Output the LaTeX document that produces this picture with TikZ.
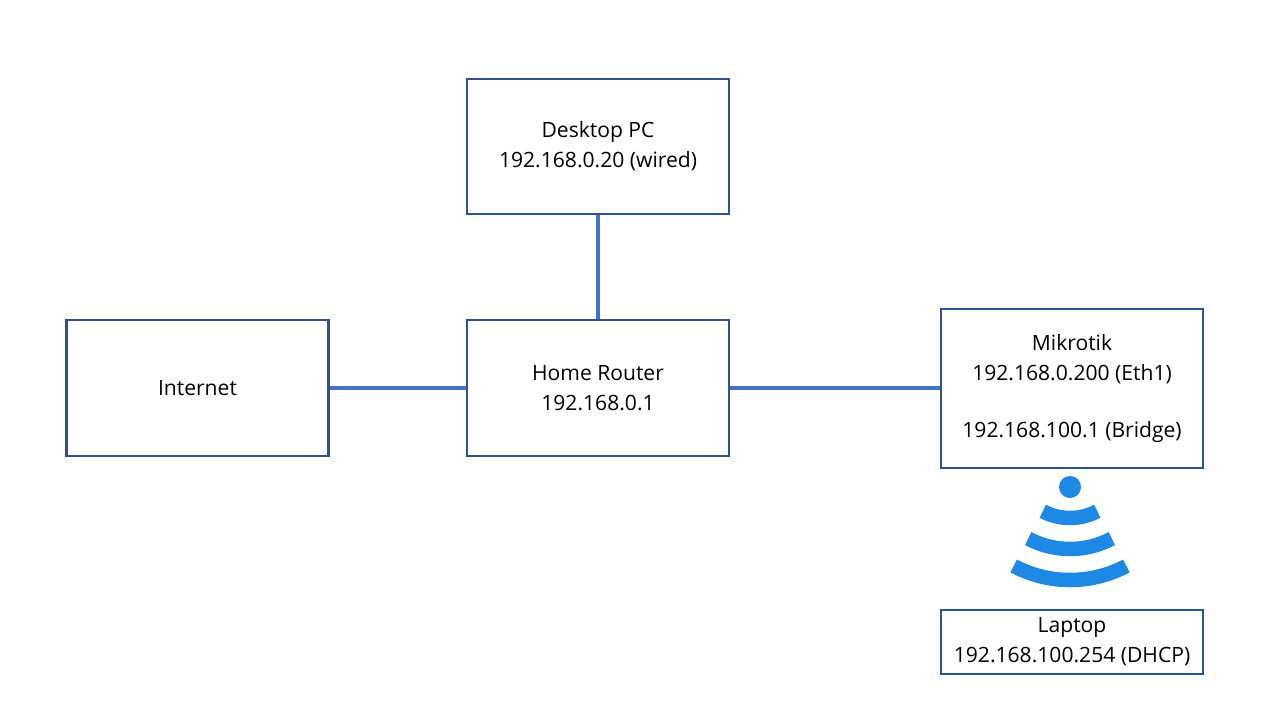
\documentclass[tikz,border=0pt]{standalone}
\usepackage{fontspec}
\setmainfont{Open Sans}
\definecolor{boxline}{HTML}{2F528F}
\definecolor{linkline}{HTML}{4472C4}
\definecolor{wifiblue}{HTML}{1E88E5}
\tikzset{
  device/.style={draw=boxline, line width=0.05cm, fill=white, minimum width=5.24cm, align=center, font=\fontsize{12}{17}\selectfont},
  link/.style={draw=linkline, line width=0.07cm}
}
\begin{document}
\begin{tikzpicture}[x=0.02cm,y=-0.02cm]
    \useasboundingbox (0,0) rectangle (1280,720);
    % Devices
    \node[device, minimum height=2.7cm] (desktop) at (598,146.5) {Desktop PC\\192.168.0.20 (wired)};
    \node[device, minimum height=2.72cm] (internet) at (197.5,388) {Internet};
    \node[device, minimum height=2.72cm] (router) at (598,388) {Home Router\\192.168.0.1};
    \node[device, minimum height=3.18cm] (mikrotik) at (1072,388.5) {Mikrotik\\192.168.0.200 (Eth1)\\[5.5mm]192.168.100.1 (Bridge)};
    \node[device, minimum height=1.28cm, inner sep=1pt] (laptop) at (1072,642) {Laptop\\192.168.100.254 (DHCP)};
    % Links
    \draw[link] (internet) -- (router);
    \draw[link] (router) -- (router -| mikrotik.west);
    \draw[link] (desktop) -- (router);
    % Wifi
    \fill[wifiblue] (1070,487) circle (11);
    \foreach \r in {58,89,120}
    {
        \draw[wifiblue, line width=0.29cm] (1070,460) ++(62:\r) arc[start angle=62, end angle=118, radius=\r];
    }
\end{tikzpicture}
\end{document}
